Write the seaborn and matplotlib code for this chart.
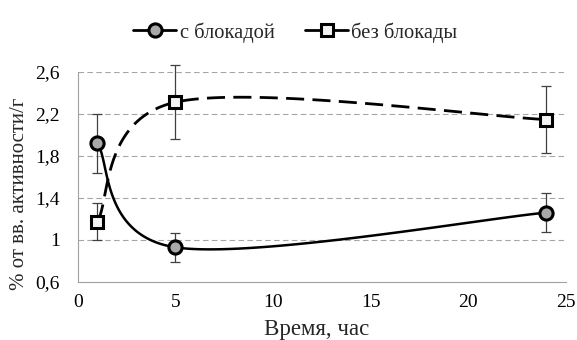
import numpy as np
import pandas as pd
import matplotlib
matplotlib.use("Agg")
import matplotlib.pyplot as plt
from matplotlib.lines import Line2D
import seaborn as sns

# ---- data ----
hours = [1, 5, 24]
with_block = [1.92, 0.93, 1.26]
with_block_err = [0.28, 0.14, 0.185]
without_block = [1.175, 2.31, 2.145]
without_block_err = [0.175, 0.35, 0.32]
series_names = ["с блокадой", "без блокады"]
y_ticks = [0.6, 1.0, 1.4, 1.8, 2.2, 2.6]
y_tick_labels = ["0,6", "1", "1,4", "1,8", "2,2", "2,6"]
x_ticks = [0, 5, 10, 15, 20, 25]


def smooth_curve(xs, ys, n=60):
    """Excel-style smoothed line (Catmull-Rom Bezier, tension 1/6)."""
    P = np.column_stack([xs, ys]).astype(float)
    out = []
    t = np.linspace(0, 1, n)[:, None]
    for i in range(len(P) - 1):
        p0 = P[i - 1] if i > 0 else P[i]
        p1, p2 = P[i], P[i + 1]
        p3 = P[i + 2] if i + 2 < len(P) else P[i + 1]
        c1 = p1 + (p2 - p0) / 6.0
        c2 = p2 - (p3 - p1) / 6.0
        seg = ((1 - t) ** 3) * p1 + 3 * ((1 - t) ** 2) * t * c1 + 3 * (1 - t) * t ** 2 * c2 + t ** 3 * p2
        out.append(seg if i == 0 else seg[1:])
    return np.vstack(out)


sns.set_theme(style="white")
plt.rcParams["font.family"] = ["Liberation Serif", "DejaVu Serif"]

fig = plt.figure(figsize=(5.77, 3.40), dpi=100)
ax = fig.add_axes([0.1347, 0.1706, 0.9804 - 0.1347, 0.789 - 0.1706])

# grid
for yv in y_ticks[1:]:
    ax.axhline(yv, color="#a6a6a6", lw=0.8, linestyle=(0, (5, 3)), zorder=0)

c_with = smooth_curve(hours, with_block)
c_without = smooth_curve(hours, without_block)
df_with = pd.DataFrame({"x": c_with[:, 0], "y": c_with[:, 1]})
df_without = pd.DataFrame({"x": c_without[:, 0], "y": c_without[:, 1]})

sns.lineplot(data=df_with, x="x", y="y", sort=False, estimator=None, ax=ax,
             color="black", lw=1.8, zorder=2)
sns.lineplot(data=df_without, x="x", y="y", sort=False, estimator=None, ax=ax,
             color="black", lw=2.0, zorder=2)
ax.lines[-1].set_linestyle((0, (6.5, 3)))

# error bars and markers
for vals, errs in [(with_block, with_block_err), (without_block, without_block_err)]:
    eb = ax.errorbar(hours, vals, yerr=errs, fmt="none", ecolor="#404040",
                     elinewidth=0.9, capsize=3.6, capthick=0.9, zorder=3)
    for art in eb.lines[1] + eb.lines[2]:
        art.set_clip_on(False)
ax.plot(hours, with_block, linestyle="none", marker="o", ms=9.5, mfc="#a9a9a9",
        mec="black", mew=2.2, zorder=4)
ax.plot(hours, without_block, linestyle="none", marker="s", ms=9.0, mfc="#f4f4f4",
        mec="black", mew=2.2, zorder=4)

ax.set_xlim(0, 25)
ax.set_ylim(0.6, 2.6)
ax.set_xticks(x_ticks)
ax.set_xticklabels([str(v) for v in x_ticks])
ax.set_yticks(y_ticks)
ax.set_yticklabels(y_tick_labels)
ax.tick_params(axis="both", labelsize=14, colors="#a0a0a0", labelcolor="black",
               direction="inout", length=6, width=0.8)
ax.tick_params(axis="x", pad=6)
ax.tick_params(axis="y", pad=10)
for s in ["top", "right"]:
    ax.spines[s].set_visible(False)
for s in ["left", "bottom"]:
    ax.spines[s].set_color("#a0a0a0")
    ax.spines[s].set_linewidth(0.8)

ax.set_xlabel("Время, час", fontsize=16.5)
ax.xaxis.set_label_coords(0.49, -0.175)
ax.xaxis.label.set_va("top")
ax.set_ylabel("% от вв. активности/г", fontsize=15)
ax.yaxis.set_label_coords(-0.10, 0.42)

handles = [
    Line2D([], [], color="black", lw=2, marker="o", ms=9.5, mfc="#a9a9a9", mec="black", mew=2.2),
    Line2D([], [], color="black", lw=2, marker="s", ms=9.0, mfc="#f4f4f4", mec="black", mew=2.2),
]
fig.legend(handles, series_names, loc="center", bbox_to_anchor=(0.512, 0.905), ncol=2,
           frameon=False, fontsize=14.8, handlelength=2.1, handletextpad=0.15,
           columnspacing=1.5)

fig.savefig("out.png", dpi=100)
